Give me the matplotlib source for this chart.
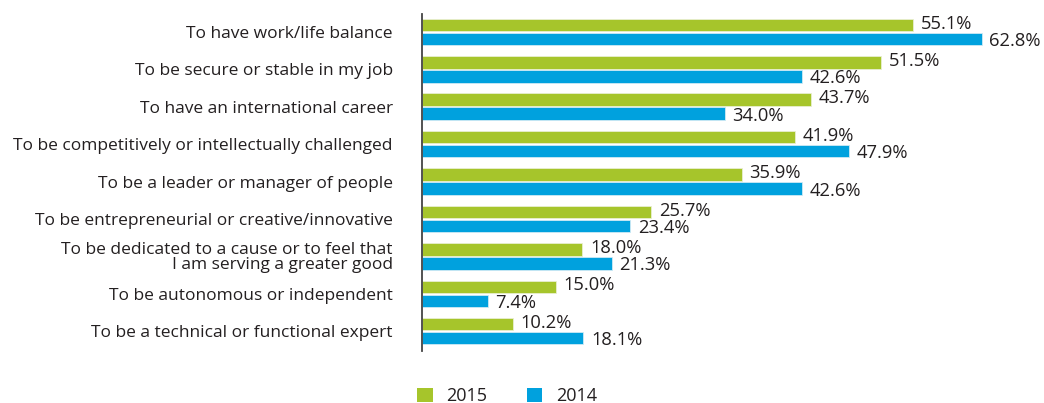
import matplotlib
matplotlib.use("Agg")
import matplotlib.pyplot as plt
from matplotlib.patches import Patch
import numpy as np

categories = [
    "To have work/life balance",
    "To be secure or stable in my job",
    "To have an international career",
    "To be competitively or intellectually challenged",
    "To be a leader or manager of people",
    "To be entrepreneurial or creative/innovative",
    "To be dedicated to a cause or to feel that\nI am serving a greater good",
    "To be autonomous or independent",
    "To be a technical or functional expert",
]
values_2015 = [55.1, 51.5, 43.7, 41.9, 35.9, 25.7, 18.0, 15.0, 10.2]
values_2014 = [62.8, 42.6, 34.0, 47.9, 42.6, 23.4, 21.3, 7.4, 18.1]
series_labels = ["2015", "2014"]

GREEN = "#A6C52B"
BLUE = "#00A1DE"
TEXT = "#231F20"

plt.rcParams['font.family'] = ['Open Sans', 'DejaVu Sans']

fig = plt.figure(figsize=(10.44, 4.03), dpi=100)
ax = fig.add_axes([422/1044, 1-351/403, 1-422/1044, (351-14)/403])

y = np.arange(len(categories))
h = 0.335
off = 0.187
b1 = ax.barh(y - off, values_2015, height=h, color=GREEN, edgecolor="#e8efd0", linewidth=0.6)
b2 = ax.barh(y + off, values_2014, height=h, color=BLUE, edgecolor="#cfeaf5", linewidth=0.6)

for bars, vals, dy in ((b1, values_2015, 1.0), (b2, values_2014, -1.5)):
    for bar, v in zip(bars, vals):
        ax.annotate(f"{v:.1f}%", (bar.get_width(), bar.get_y() + bar.get_height()/2),
                    xytext=(5.5, dy), textcoords="offset points", va="center", ha="left",
                    fontsize=13.2, color=TEXT)

ax.set_xlim(0, (1044-422)/8.91)
ax.set_ylim(8.53, -0.48)
ax.set_xticks([])
ax.set_yticks(y)
ax.set_yticklabels(categories, fontsize=12.5, color=TEXT, linespacing=0.9)
for lbl in ax.get_yticklabels():
    lbl.set_multialignment("right")
ax.tick_params(axis="y", length=0, pad=21)
for s in ("top", "right", "bottom"):
    ax.spines[s].set_visible(False)
ax.spines["left"].set_color("#444444")
ax.spines["left"].set_linewidth(1.3)

handles = [Patch(facecolor=GREEN, edgecolor="none"), Patch(facecolor=BLUE, edgecolor="none")]
fig.legend(handles, series_labels, loc="center", bbox_to_anchor=(507/1044, 1-396/403),
           ncol=2, frameon=False, fontsize=13, handlelength=0.85, handleheight=0.85,
           columnspacing=2.2, handletextpad=0.75, labelcolor=TEXT)

fig.savefig("out.png", dpi=100)
